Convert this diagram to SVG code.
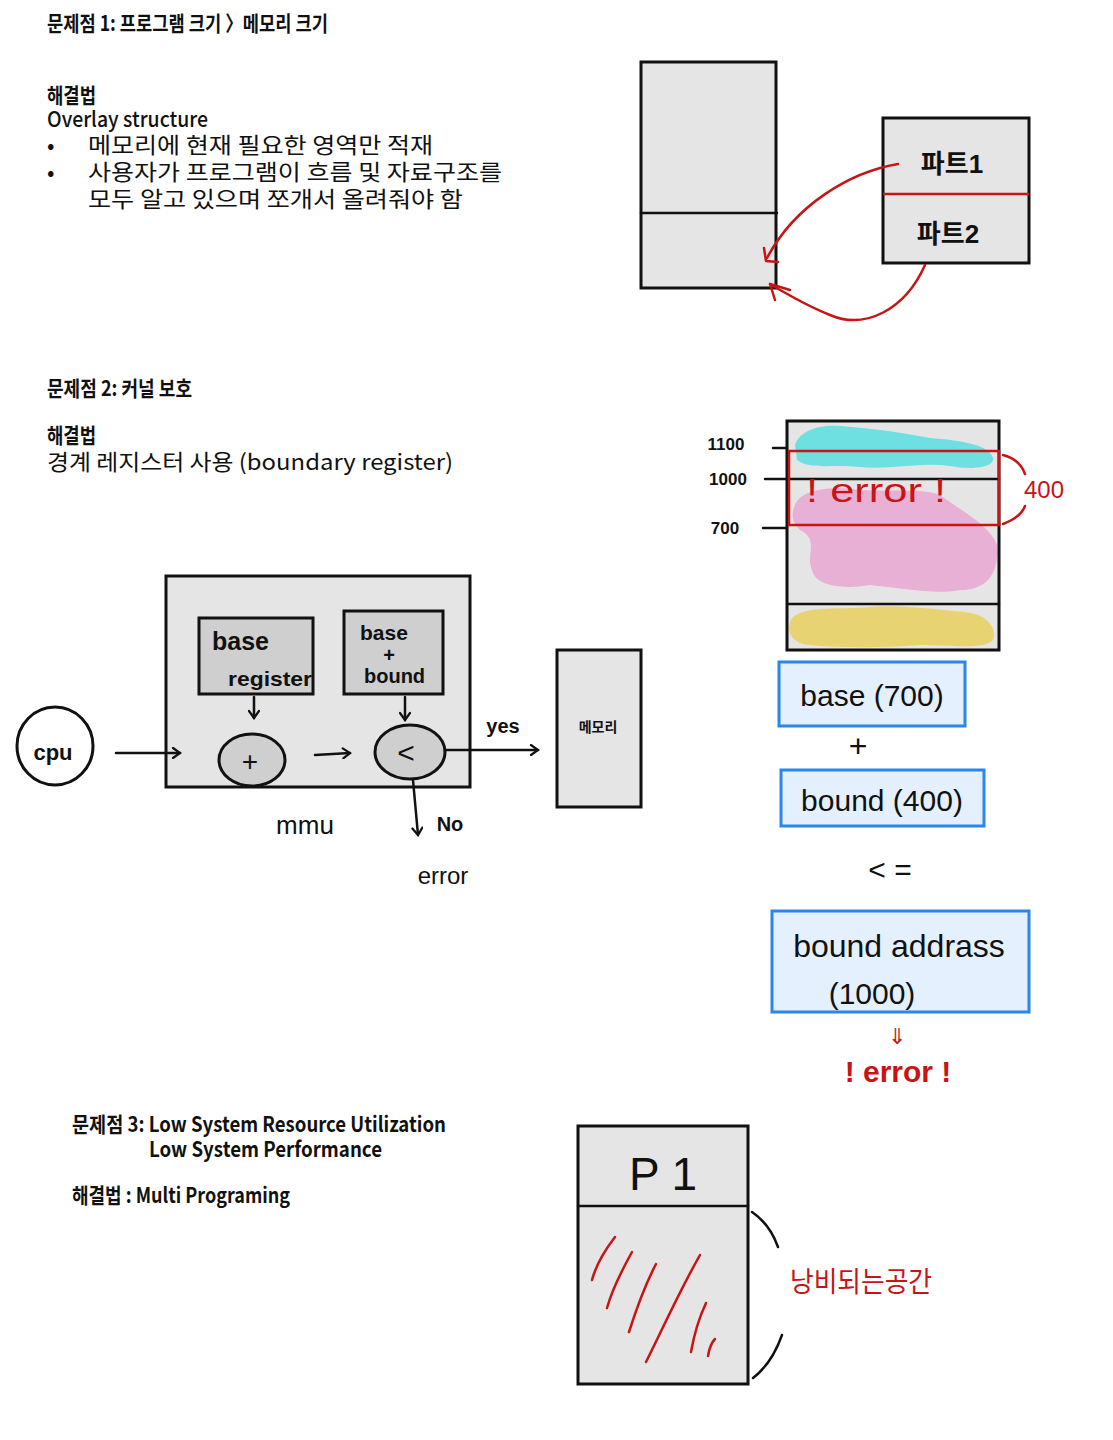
<svg xmlns="http://www.w3.org/2000/svg" width="1113" height="1440" viewBox="0 0 1113 1440">
<style>
.ttl{font-family:"Noto Sans CJK KR","Liberation Sans",sans-serif;font-weight:700;font-size:21px;fill:#111}
.bd{font-family:"Noto Sans CJK KR","Liberation Sans",sans-serif;font-weight:400;font-size:22px;fill:#111}
.hw{font-family:"Liberation Sans","Noto Sans CJK KR",sans-serif;fill:#111}
.hwr{font-family:"Liberation Sans","Noto Sans CJK KR",sans-serif;fill:#c81414}
.box{fill:#e5e5e5;stroke:#111;stroke-width:3}
.dbox{fill:#cfcfcf;stroke:#111;stroke-width:3}
.blue{fill:#e4f0fd;stroke:#2a86e8;stroke-width:3}
.ln{stroke:#111;stroke-width:2.5;fill:none;stroke-linecap:round}
.rl{stroke:#c81414;stroke-width:2.5;fill:none;stroke-linecap:round;stroke-linejoin:round}
</style>
<defs>
<marker id="ah" markerWidth="12" markerHeight="12" refX="9" refY="6" orient="auto" markerUnits="userSpaceOnUse">
<path d="M2,1 L9,6 L2,11" fill="none" stroke="#111" stroke-width="2.2" stroke-linecap="round"/>
</marker>
</defs>
<rect width="1113" height="1440" fill="#fff"/>

<!-- Section 1 text -->
<g id="section1-text">
<text class="ttl" x="47" y="31" textLength="281" lengthAdjust="spacingAndGlyphs">문제점 1: 프로그램 크기 〉메모리 크기</text>
<text class="ttl" x="47" y="103" textLength="49" lengthAdjust="spacingAndGlyphs">해결법</text>
<text class="ttl" x="47" y="127" style="font-weight:500" textLength="161" lengthAdjust="spacingAndGlyphs">Overlay structure</text>
<text class="bd" x="47" y="153">•</text>
<text class="bd" x="88" y="153" textLength="345" lengthAdjust="spacingAndGlyphs">메모리에 현재 필요한 영역만 적재</text>
<text class="bd" x="47" y="180">•</text>
<text class="bd" x="88" y="180" textLength="414" lengthAdjust="spacingAndGlyphs">사용자가 프로그램이 흐름 및 자료구조를</text>
<text class="bd" x="88" y="207" textLength="375" lengthAdjust="spacingAndGlyphs">모두 알고 있으며 쪼개서 올려줘야 함</text>
</g>

<!-- Section 1 diagram -->
<g id="overlay-memory">
<rect class="box" x="641" y="62" width="135" height="226"/>
<line class="ln" x1="641" y1="213" x2="777" y2="213"/>
</g>
<g id="overlay-parts">
<rect class="box" x="883" y="118" width="146" height="145"/>
<line x1="883" y1="194" x2="1029" y2="194" stroke="#c81414" stroke-width="2.5"/>
<text class="hw" x="952" y="173" font-size="26" font-weight="700" text-anchor="middle">파트1</text>
<text class="hw" x="948" y="243" font-size="26" font-weight="700" text-anchor="middle">파트2</text>
</g>
<g id="overlay-connectors">
<path class="rl" d="M898 164 C850 172,795 205,767 258"/>
<path class="rl" d="M764 248 L766 261 L778 262"/>
<path class="rl" d="M925 265 C905 310,865 330,830 315 C805 305,785 293,770 284"/>
<path class="rl" d="M790 290 L770 284 L775 300"/>
</g>

<!-- Section 2 text -->
<g id="section2-text">
<text class="ttl" x="47" y="396" textLength="145" lengthAdjust="spacingAndGlyphs">문제점 2: 커널 보호</text>
<text class="ttl" x="47" y="443" textLength="49" lengthAdjust="spacingAndGlyphs">해결법</text>
<text class="bd" x="47" y="470" textLength="406" lengthAdjust="spacingAndGlyphs">경계 레지스터 사용 (boundary register)</text>
</g>

<!-- MMU diagram -->
<g id="cpu">
<ellipse cx="55" cy="746" rx="38" ry="39" fill="#fff" stroke="#111" stroke-width="3"/>
<text class="hw" x="53" y="760" font-size="22" text-anchor="middle" font-weight="700">cpu</text>
</g>
<g id="mmu">
<rect class="box" x="166" y="576" width="304" height="211"/>
<text class="hw" x="305" y="834" font-size="26" text-anchor="middle">mmu</text>
</g>
<g id="base-register">
<rect class="dbox" x="199" y="618" width="114" height="76"/>
<text class="hw" x="212" y="650" font-size="25" font-weight="700">base</text>
<text class="hw" x="228" y="686" font-size="21" font-weight="700" textLength="84" lengthAdjust="spacingAndGlyphs">register</text>
</g>
<g id="base-bound">
<rect class="dbox" x="344" y="611" width="99" height="83"/>
<text class="hw" x="360" y="640" font-size="21" font-weight="700">base</text>
<text class="hw" x="389" y="662" font-size="20" font-weight="700" text-anchor="middle">+</text>
<text class="hw" x="364" y="683" font-size="20" font-weight="700">bound</text>
</g>
<g id="adder">
<ellipse class="dbox" cx="252" cy="760" rx="33" ry="26"/>
<text class="hw" x="250" y="771" font-size="28" text-anchor="middle">+</text>
</g>
<g id="compare">
<ellipse class="dbox" cx="410" cy="752" rx="35" ry="27"/>
<text class="hw" x="406" y="763" font-size="30" text-anchor="middle">&lt;</text>
</g>
<g id="memory">
<rect class="box" x="557" y="650" width="84" height="157"/>
<text class="hw" x="598" y="732" font-size="14" font-weight="700" text-anchor="middle">메모리</text>
</g>
<g id="labels-mmu">
<text class="hw" x="503" y="733" font-size="20" font-weight="700" text-anchor="middle">yes</text>
<text class="hw" x="450" y="831" font-size="20" font-weight="700" text-anchor="middle">No</text>
<text class="hw" x="443" y="884" font-size="24" text-anchor="middle">error</text>
</g>
<g id="mmu-connectors">
<line class="ln" x1="116" y1="753" x2="180" y2="753" marker-end="url(#ah)"/>
<line class="ln" x1="254" y1="697" x2="254" y2="718" marker-end="url(#ah)"/>
<line class="ln" x1="405" y1="697" x2="405" y2="720" marker-end="url(#ah)"/>
<line class="ln" x1="315" y1="755" x2="350" y2="753" marker-end="url(#ah)"/>
<line class="ln" x1="445" y1="750" x2="538" y2="750" marker-end="url(#ah)"/>
<line class="ln" x1="413" y1="780" x2="418" y2="835" marker-end="url(#ah)"/>
</g>

<!-- Memory protection diagram -->
<g id="protected-memory">
<rect x="787" y="421" width="212" height="229" fill="#e5e5e5"/>
<path d="M795 445 C800 430,820 424,840 426 C870 428,900 432,930 438 C960 440,990 445,993 458 C995 468,970 470,950 466 C920 462,890 470,860 467 C830 464,810 470,797 460 Z" fill="#6fe0e2"/>
<path d="M795 505 C800 490,830 485,860 490 C890 492,920 488,940 495 C960 510,990 525,997 545 C999 570,990 590,960 590 C940 595,900 588,870 585 C840 590,815 585,812 570 C805 555,820 540,800 530 C790 520,792 512,795 505 Z" fill="#e8b0d4"/>
<path d="M792 618 C805 605,840 610,870 607 C900 604,940 610,965 612 C990 615,997 630,993 640 C985 650,950 645,920 645 C880 648,840 648,810 645 C790 644,785 628,792 618 Z" fill="#e8d373"/>
<rect x="787" y="421" width="212" height="229" fill="none" stroke="#111" stroke-width="3"/>
<line class="ln" x1="765" y1="479" x2="999" y2="479"/>
<line class="ln" x1="787" y1="604" x2="999" y2="604"/>
<line class="ln" x1="773" y1="448" x2="787" y2="448"/>
<line class="ln" x1="763" y1="528" x2="787" y2="528"/>
<text class="hw" x="726" y="450" font-size="17" font-weight="700" text-anchor="middle">1100</text>
<text class="hw" x="728" y="485" font-size="17" font-weight="700" text-anchor="middle">1000</text>
<text class="hw" x="725" y="534" font-size="17" font-weight="700" text-anchor="middle">700</text>
<rect x="789" y="451" width="210" height="74" fill="none" stroke="#c81414" stroke-width="2.5"/>
<text class="hwr" x="806" y="502" font-size="34" textLength="140" lengthAdjust="spacingAndGlyphs">! error !</text>
<path class="rl" d="M1003 455 C1015 458,1022 466,1025 474"/>
<path class="rl" d="M1025 506 C1022 514,1014 520,1003 524"/>
<text class="hwr" x="1044" y="498" font-size="24" text-anchor="middle">400</text>
</g>

<g id="base-700">
<rect class="blue" x="779" y="662" width="186" height="64"/>
<text class="hw" x="872" y="706" font-size="30" text-anchor="middle">base (700)</text>
</g>
<text class="hw" x="858" y="757" font-size="32" text-anchor="middle">+</text>
<g id="bound-400">
<rect class="blue" x="781" y="770" width="203" height="56"/>
<text class="hw" x="882" y="811" font-size="30" text-anchor="middle">bound (400)</text>
</g>
<text class="hw" x="890" y="880" font-size="30" text-anchor="middle">&lt; =</text>
<g id="bound-address">
<rect class="blue" x="772" y="911" width="257" height="101"/>
<text class="hw" x="899" y="957" font-size="32" text-anchor="middle">bound addrass</text>
<text class="hw" x="872" y="1004" font-size="30" text-anchor="middle">(1000)</text>
</g>
<g id="result-error">
<text class="hwr" x="897" y="1044" font-size="22" text-anchor="middle">⇓</text>
<text class="hwr" x="898" y="1082" font-size="30" font-weight="700" text-anchor="middle">! error !</text>
</g>

<!-- Section 3 -->
<g id="section3-text">
<text class="ttl" x="72" y="1132" textLength="374" lengthAdjust="spacingAndGlyphs">문제점 3: Low System Resource Utilization</text>
<text class="ttl" x="149" y="1157" textLength="233" lengthAdjust="spacingAndGlyphs">Low System Performance</text>
<text class="ttl" x="72" y="1203" textLength="218" lengthAdjust="spacingAndGlyphs">해결법 : Multi Programing</text>
</g>
<g id="p1-memory">
<rect class="box" x="578" y="1126" width="170" height="258"/>
<line class="ln" x1="578" y1="1206" x2="748" y2="1206"/>
<text class="hw" x="663" y="1190" font-size="46" text-anchor="middle">P 1</text>
<path class="rl" d="M615 1237 C605 1250,596 1265,592 1280"/>
<path class="rl" d="M632 1252 C622 1270,612 1290,607 1308"/>
<path class="rl" d="M656 1264 C645 1285,636 1310,629 1332"/>
<path class="rl" d="M700 1255 C680 1290,662 1330,646 1362"/>
<path class="rl" d="M706 1303 C699 1318,694 1335,691 1352"/>
<path class="rl" d="M715 1339 C711 1343,709 1350,708 1356"/>
<path class="ln" d="M752 1212 C764 1220,773 1233,778 1247"/>
<path class="ln" d="M782 1335 C776 1352,766 1368,753 1378"/>
<text class="hwr" x="861" y="1292" font-size="28" text-anchor="middle" textLength="142" lengthAdjust="spacingAndGlyphs">낭비되는공간</text>
</g>
</svg>
